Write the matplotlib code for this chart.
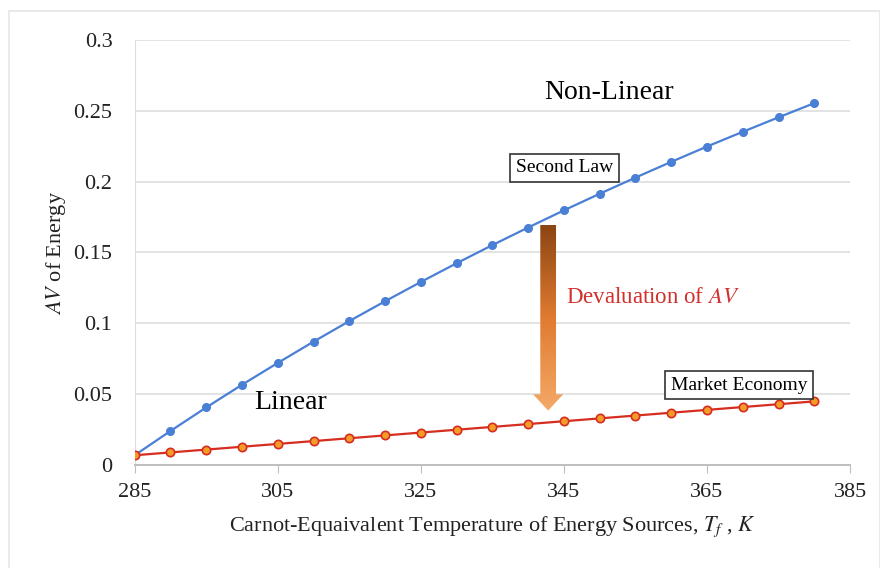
import numpy as np
import matplotlib
matplotlib.use("Agg")
import matplotlib.pyplot as plt
from matplotlib.patches import Polygon, Rectangle
from matplotlib.colors import LinearSegmentedColormap

plt.rcParams['font.family'] = 'Liberation Serif'
plt.rcParams['mathtext.fontset'] = 'stix'

# temperatures of energy sources, K
temps = [285, 290, 295, 300, 305, 310, 315, 320, 325, 330,
         335, 340, 345, 350, 355, 360, 365, 370, 375, 380]
# second law (Carnot) available value
second_law = [0.0070, 0.0241, 0.0407, 0.0567, 0.0721, 0.0871, 0.1016, 0.1156, 0.1292, 0.1424,
              0.1552, 0.1676, 0.1797, 0.1914, 0.2028, 0.2139, 0.2247, 0.2351, 0.2453, 0.2553]
# market economy value
market = [0.007, 0.009, 0.011, 0.013, 0.015, 0.017, 0.019, 0.021, 0.023, 0.025,
          0.027, 0.029, 0.031, 0.033, 0.035, 0.037, 0.039, 0.041, 0.043, 0.045]

xticks = [285, 305, 325, 345, 365, 385]
yticks = [0, 0.05, 0.1, 0.15, 0.2, 0.25, 0.3]
ytick_labels = ['0', '0.05', '0.1', '0.15', '0.2', '0.25', '0.3']

fig = plt.figure(figsize=(8.8, 5.68), dpi=100)
# light outer frame
fig.patches.append(Rectangle((0.010, -0.01), 0.99, 0.99, transform=fig.transFigure,
                             fill=False, edgecolor='#e6e6e6', linewidth=1.2))
ax = fig.add_axes([0.153, 0.181, 0.813, 0.749])

ax.plot(temps, second_law, color='#4a7fd6', linewidth=1.6, marker='o',
        markersize=5.5, markerfacecolor='#4a7fd6', markeredgecolor='#4a7fd6', zorder=4)
ax.plot(temps, market, color='#d62d20', linewidth=1.6, marker='o',
        markersize=6, markerfacecolor='#f39c27', markeredgecolor='#d62d20',
        markeredgewidth=1.2, zorder=4)

ax.set_xlim(285, 385)
ax.set_ylim(0, 0.3)
ax.set_xticks(xticks)
ax.set_yticks(yticks)
ax.set_yticklabels(ytick_labels)
ax.tick_params(axis='x', length=6, color='#bfbfbf', labelsize=16, pad=7, labelcolor='#222222')
ax.tick_params(axis='y', length=0, labelsize=16, pad=16, labelcolor='#222222')
ax.grid(axis='y', color='#dedede', linewidth=1.2, zorder=0)
for side in ['top', 'right']:
    ax.spines[side].set_visible(False)
ax.spines['left'].set_color('#dedede')
ax.spines['bottom'].set_color('#bfbfbf')
ax.spines['bottom'].set_linewidth(1.4)

ax.set_xlabel('Carnot-Equaivalent Temperature of Energy Sources, $T_f$ , $K$',
              fontsize=16, labelpad=9, color='#222222')
ax.set_ylabel('$AV$ of Energy', fontsize=16, labelpad=4, color='#222222')

# gradient arrow
ax_x, top_y, head_y, tip_y = 342.8, 0.1694, 0.0500, 0.0385
hw, sw = 2.1, 1.1
arrow = Polygon([(ax_x - sw, top_y), (ax_x + sw, top_y), (ax_x + sw, head_y),
                 (ax_x + hw, head_y), (ax_x, tip_y), (ax_x - hw, head_y),
                 (ax_x - sw, head_y)], closed=True, facecolor='none', edgecolor='none')
ax.add_patch(arrow)
cmap = LinearSegmentedColormap.from_list('av', ['#8b4513', '#e07b30', '#f4a968'])
grad = np.linspace(0, 1, 256).reshape(-1, 1)
im = ax.imshow(grad, cmap=cmap, aspect='auto', zorder=5,
               extent=[ax_x - hw, ax_x + hw, tip_y, top_y], origin='upper')
im.set_clip_path(arrow)
ax.set_xlim(285, 385)
ax.set_ylim(0, 0.3)

ax.text(351.3, 0.2626, 'Non-Linear', fontsize=20, ha='center', va='center')
ax.text(306.8, 0.0445, 'Linear', fontsize=20, ha='center', va='center')
ax.text(357.4, 0.1179, 'Devaluation of $AV$', fontsize=16.5, ha='center', va='center',
        color='#d0312d')
box = dict(boxstyle='square,pad=0.3', facecolor='white', edgecolor='#333333', linewidth=1.2)
ax.text(345.1, 0.2096, 'Second Law', fontsize=14, ha='center', va='center', bbox=box, zorder=6)
ax.text(369.5, 0.0565, 'Market Economy', fontsize=14, ha='center', va='center', bbox=box, zorder=6)

plt.savefig('out.png', dpi=100)
